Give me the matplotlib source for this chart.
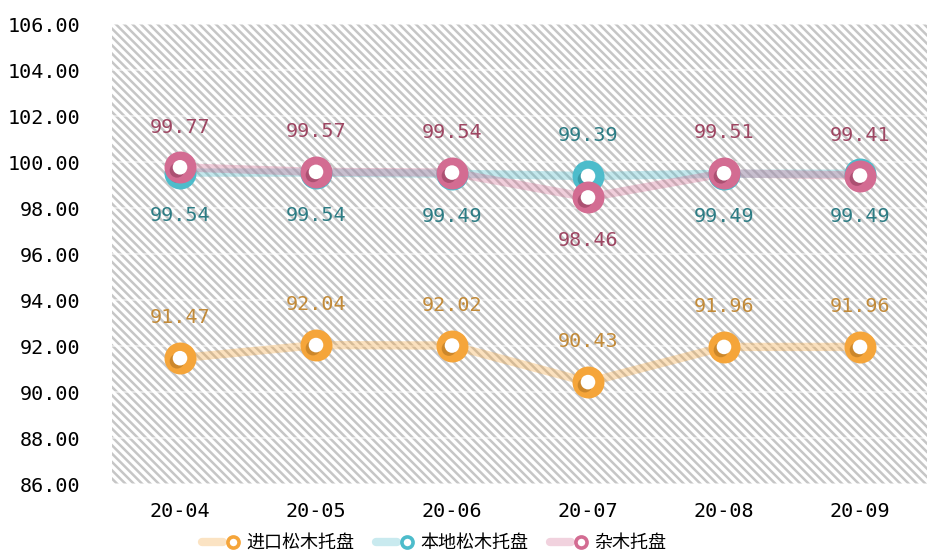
import matplotlib
matplotlib.use("Agg")
import matplotlib.pyplot as plt
from matplotlib.patches import Rectangle
from matplotlib.lines import Line2D
from matplotlib.legend_handler import HandlerTuple
import matplotlib.patheffects as pe

categories = ["20-04", "20-05", "20-06", "20-07", "20-08", "20-09"]
series_names = ["进口松木托盘", "本地松木托盘", "杂木托盘"]
imported_pine = [91.47, 92.04, 92.02, 90.43, 91.96, 91.96]
local_pine = [99.54, 99.54, 99.49, 99.39, 99.49, 99.49]
hardwood = [99.77, 99.57, 99.54, 98.46, 99.51, 99.41]
y_ticks = [86, 88, 90, 92, 94, 96, 98, 100, 102, 104, 106]

ring_colors = ["#F5A53A", "#4DBCCB", "#D36C92"]
shadow_colors = ["#9C6418", "#1F6F7A", "#7E2E4C"]
label_colors = ["#C28A38", "#2C7C84", "#9E4662"]

mono = "DejaVu Sans Mono"
cjk = ["Noto Sans CJK SC", "DejaVu Sans"]

plt.rcParams["hatch.linewidth"] = 1.8

fig = plt.figure(figsize=(9.28, 5.54), dpi=100)
ax = fig.add_axes([112 / 928, 1 - 484 / 554, 1 - 112 / 928, (484 - 24) / 554])
ax.patch.set_facecolor("white")
bg = Rectangle((0, 0), 1, 1, transform=ax.transAxes, facecolor="white",
               edgecolor="#c6c6c6", hatch="\\" * 4, linewidth=0, zorder=0)
ax.add_patch(bg)

x = list(range(len(categories)))
all_series = [imported_pine, local_pine, hardwood]

for i, vals in enumerate(all_series):
    ax.plot(x, vals, color=ring_colors[i], lw=6, alpha=0.33, zorder=2,
            solid_capstyle="butt")

for i, vals in enumerate(all_series):
    ax.plot(x, vals, ls="none", marker="o", ms=23, mfc=ring_colors[i],
            mec="none", zorder=3 + i)
    ax.plot(x, vals, ls="none", marker="o", ms=10.5, mfc="white", mec="none",
            zorder=3 + i,
            path_effects=[pe.SimplePatchShadow(offset=(-2.2, -2.2),
                                               shadow_rgbFace=shadow_colors[i],
                                               alpha=0.45),
                          pe.Normal()])

# labels
for j in x:
    ax.annotate(f"{imported_pine[j]:.2f}", (j, imported_pine[j]),
                xytext=(0, 29), textcoords="offset points", ha="center",
                va="center", fontsize=14.5, family=mono, color=label_colors[0],
                zorder=10)
    pink_above = hardwood[j] > local_pine[j] - 0.5
    ax.annotate(f"{hardwood[j]:.2f}", (j, hardwood[j]),
                xytext=(0, 29 if pink_above else -31), textcoords="offset points",
                ha="center", va="center", fontsize=14.5, family=mono,
                color=label_colors[2], zorder=10)
    ax.annotate(f"{local_pine[j]:.2f}", (j, local_pine[j]),
                xytext=(0, -31 if pink_above else 29), textcoords="offset points",
                ha="center", va="center", fontsize=14.5, family=mono,
                color=label_colors[1], zorder=10)

ax.set_xlim(-0.5, len(categories) - 0.5)
ax.set_ylim(y_ticks[0], y_ticks[-1])
ax.set_yticks(y_ticks)
ax.set_yticklabels([f"{v:.2f}" for v in y_ticks], family=mono, fontsize=14.5)
ax.set_xticks(x)
ax.set_xticklabels(categories, family=mono, fontsize=14.5)
ax.tick_params(axis="both", length=0, colors="black")
ax.tick_params(axis="y", pad=23)
ax.tick_params(axis="x", pad=13)
ax.yaxis.grid(True, color="white", lw=1.2, alpha=0.6, zorder=1)
ax.set_axisbelow(True)
for s in ax.spines.values():
    s.set_visible(False)

handles = []
for i in range(3):
    ln = Line2D([], [], color=ring_colors[i], lw=6, alpha=0.3,
                solid_capstyle="round")
    mk = Line2D([], [], ls="none", marker="o", ms=8, mfc="white",
                mec=ring_colors[i], mew=2.6)
    handles.append((ln, mk))

fig.legend(handles, series_names, loc="center", ncol=3,
           bbox_to_anchor=(434 / 928, 1 - 543 / 554), frameon=False,
           handler_map={tuple: HandlerTuple(ndivide=None, pad=0)},
           prop={"family": cjk, "size": 13, "weight": "medium"},
           handlelength=2.3, handletextpad=0.15, columnspacing=1.2)

fig.savefig("out.png", dpi=100)
